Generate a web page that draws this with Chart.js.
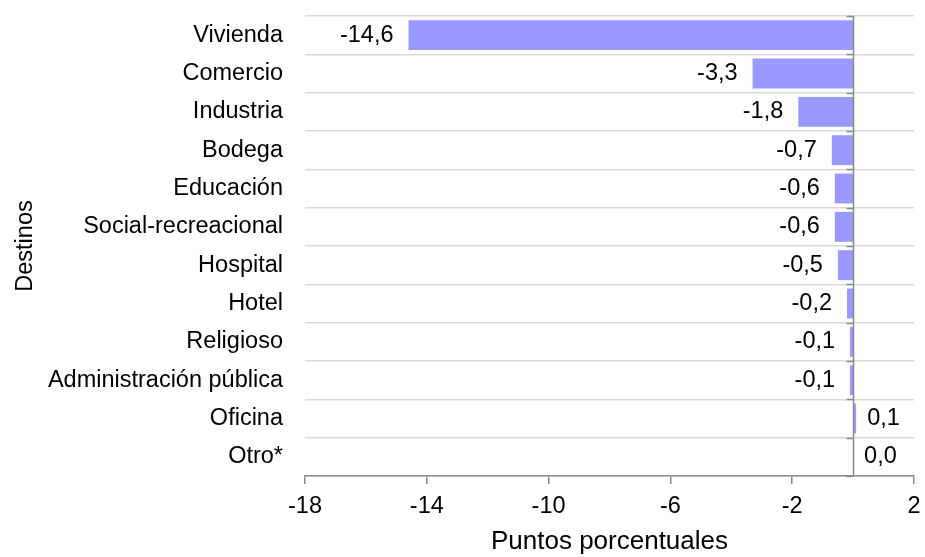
<!DOCTYPE html>
<html>
<head>
<meta charset="utf-8">
<script src="https://cdn.jsdelivr.net/npm/chart.js@4.4.0/dist/chart.umd.min.js"></script>
<style>
  body { margin: 0; background: #ffffff; }
  #wrap { width: 925px; height: 557px; }
</style>
</head>
<body>
<div id="wrap"><canvas id="chart" width="925" height="557"></canvas></div>
<script>
var destinos = ['Vivienda', 'Comercio', 'Industria', 'Bodega', 'Educación', 'Social-recreacional',
    'Hospital', 'Hotel', 'Religioso', 'Administración pública', 'Oficina', 'Otro*'];
var puntos = [-14.6, -3.3, -1.8, -0.7, -0.6, -0.6, -0.5, -0.2, -0.1, -0.1, 0.1, 0.0];
var xMin = -18, xMax = 2, xStep = 4;

var fontFamily = "'Liberation Sans', Arial, sans-serif";

function fmt(v){
    return v.toFixed(1).replace('.', ',');
}

// etiquetas de valor al final de cada barra + linea del cero
var extras = {
    id: 'extras',
    afterDatasetsDraw: function(chart){
        var ctx = chart.ctx;
        var x = chart.scales.x;
        var area = chart.chartArea;
        var x0 = Math.round(x.getPixelForValue(0)) + 0.5;

        ctx.save();
        ctx.strokeStyle = '#898989';
        ctx.lineWidth = 1.5;
        ctx.beginPath();
        ctx.moveTo(x0, area.top);
        ctx.lineTo(x0, area.bottom);
        var step = (area.bottom - area.top) / destinos.length;
        for (var i = 0; i <= destinos.length; i++) {
            var yy = Math.round(area.top + i * step) + 0.5;
            ctx.moveTo(x0 - 7, yy);
            ctx.lineTo(x0, yy);
        }
        ctx.stroke();

        ctx.fillStyle = '#000';
        ctx.font = '23.5px ' + fontFamily;
        ctx.textBaseline = 'middle';
        chart.getDatasetMeta(0).data.forEach(function(bar, i){
            var v = puntos[i];
            if (v < 0) {
                ctx.textAlign = 'right';
                ctx.fillText(fmt(v), bar.x - 15, bar.y);
            } else {
                ctx.textAlign = 'left';
                ctx.fillText(fmt(v), bar.x + 11, bar.y);
            }
        });
        ctx.restore();
    }
};

var chart = new Chart(document.getElementById('chart'), {
    type: 'bar',
    data: {
        labels: destinos,
        datasets: [{
            data: puntos,
            backgroundColor: '#9999FF',
            borderWidth: 0,
            barPercentage: 0.78,
            categoryPercentage: 1.0
        }]
    },
    options: {
        indexAxis: 'y',
        responsive: false,
        animation: false,
        layout: { padding: { left: 0, right: 11, top: 16, bottom: 0 } },
        plugins: {
            legend: { display: false },
            tooltip: { enabled: false }
        },
        scales: {
            x: {
                min: xMin,
                max: xMax,
                afterFit: function(scale){
                    scale.height = 81;
                    scale.paddingLeft = 0;
                    scale.paddingRight = 0;
                },
                ticks: {
                    stepSize: xStep,
                    color: '#000',
                    padding: 8,
                    font: { family: fontFamily, size: 23.5 },
                    maxRotation: 0,
                    autoSkip: false
                },
                grid: {
                    drawOnChartArea: false,
                    drawTicks: true,
                    tickLength: 8,
                    tickColor: '#898989',
                    lineWidth: 1.5
                },
                border: { color: '#898989', width: 1.5 },
                title: {
                    display: true,
                    text: 'Puntos porcentuales',
                    color: '#000',
                    font: { family: fontFamily, size: 26 },
                    padding: { top: 0, bottom: 0 }
                }
            },
            y: {
                afterFit: function(scale){
                    scale.width = 305;
                    scale.paddingTop = 0;
                    scale.paddingBottom = 0;
                },
                ticks: {
                    color: '#000',
                    padding: 22,
                    font: { family: fontFamily, size: 23.5 },
                    autoSkip: false
                },
                grid: {
                    color: '#d9d9d9',
                    lineWidth: 1.5,
                    drawTicks: false
                },
                border: { display: false },
                title: {
                    display: true,
                    text: 'Destinos',
                    color: '#000',
                    font: { family: fontFamily, size: 23.5 },
                    padding: { top: 11, bottom: 0 }
                }
            }
        }
    },
    plugins: [extras]
});
</script>
</body>
</html>
